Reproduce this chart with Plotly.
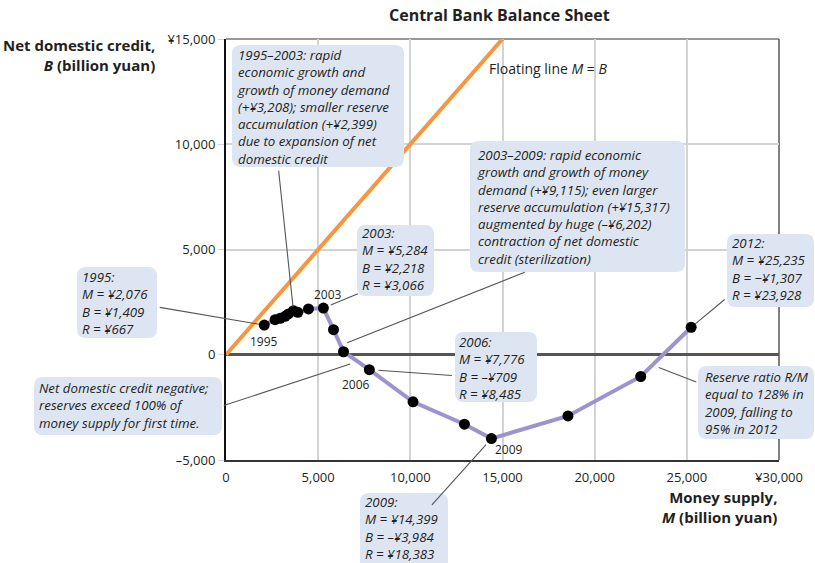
import plotly.graph_objects as go

# ---------------- data ----------------
years = list(range(1995, 2013))
money_supply = [2076, 2663, 2935, 3207, 3386, 3658, 3897, 4473, 5284,
                5832, 6376, 7776, 10145, 12935, 14399, 18550, 22500, 25235]
net_credit = [1409, 1667, 1729, 1824, 1938, 2095, 2014, 2176, 2218,
              1190, 143, -709, -2238, -3300, -3984, -2905, -1033, 1307]
floating_x = [0, 15000]
floating_y = [0, 15000]

x_tickvals = [0, 5000, 10000, 15000, 20000, 25000, 30000]
x_ticktext = ["0", "5,000", "10,000", "15,000", "20,000", "25,000", "¥30,000"]
y_tickvals = [-5000, 0, 5000, 10000, 15000]
y_ticktext = ["–5,000", "0", "5,000", "10,000", "¥15,000"]

# ---------------- layout helpers ----------------
W, H = 815, 563
L, R, T, B = 226, 36, 39, 103
PW, PH = W - L - R, H - T - B
FONT = "Open Sans"
TXT = "#231F20"
BOXC = "#DDE5F2"
BOX_FS = 13.3
LINE_H = BOX_FS * 1.3


def px(x):
    return (x - L) / PW


def py(y):
    return (H - B - y) / PH


def rrect(x0, y0, x1, y1, r=9):
    pts = [("M", x0 + r, y0), ("L", x1 - r, y0), ("Q", x1, y0, x1, y0 + r),
           ("L", x1, y1 - r), ("Q", x1, y1, x1 - r, y1), ("L", x0 + r, y1),
           ("Q", x0, y1, x0, y1 - r), ("L", x0, y0 + r), ("Q", x0, y0, x0 + r, y0)]
    s = ""
    for p in pts:
        cmd = p[0]
        coords = p[1:]
        seg = []
        for i in range(0, len(coords), 2):
            seg.append(f"{px(coords[i]):.5f},{py(coords[i+1]):.5f}")
        s += cmd + " ".join(seg) + " "
    return s + "Z"


fig = go.Figure()

fig.add_trace(go.Scatter(x=floating_x, y=floating_y, mode="lines",
                         line=dict(color="#F7963F", width=4),
                         hoverinfo="skip", showlegend=False, cliponaxis=True))
fig.add_trace(go.Scatter(x=money_supply, y=net_credit, mode="lines+markers",
                         line=dict(color="#9D93CF", width=4),
                         marker=dict(color="black", size=11),
                         text=[str(y) for y in years],
                         showlegend=False, cliponaxis=False))

# boxes (pixel rects) and texts
boxes = [
    ((232, 45, 404, 167), (238, 55),
     ["1995–2003: rapid", "economic growth and", "growth of money demand",
      "(+¥3,208); smaller reserve", "accumulation (+¥2,399)", "due to expansion of net",
      "domestic credit"]),
    ((470, 141, 685, 272), (478, 155),
     ["2003–2009: rapid economic", "growth and growth of money",
      "demand (+¥9,115); even larger", "reserve accumulation (+¥15,317)",
      "augmented by huge (–¥6,202)", "contraction of net domestic",
      "credit (sterilization)"]),
    ((77, 267, 157, 338), (83, 277),
     ["1995:", "M = ¥2,076", "B = ¥1,409", "R = ¥667"]),
    ((357, 225, 434, 296), (363, 233),
     ["2003:", "M = ¥5,284", "B = ¥2,218", "R = ¥3,066"]),
    ((727, 234, 814, 307), (733, 243),
     ["2012:", "M = ¥25,235", "B = −¥1,307", "R = ¥23,928"]),
    ((455, 332, 537, 402), (460, 342),
     ["2006:", "M = ¥7,776", "B = –¥709", "R = ¥8,485"]),
    ((34, 377, 222, 435), (40, 388),
     ["Net domestic credit negative;", "reserves exceed 100% of",
      "money supply for first time."]),
    ((360, 493, 448, 572), (366, 502),
     ["2009:", "M = ¥14,399", "B = –¥3,984", "R = ¥18,383"]),
    ((698, 366, 814, 439), (706, 377),
     ["Reserve ratio R/M", "equal to 128% in", "2009, falling to", "95% in 2012"]),
]

shapes = []
annotations = []
for (x0, y0, x1, y1), (tx, ty), lines in boxes:
    shapes.append(dict(type="path", xref="paper", yref="paper", path=rrect(x0, y0, x1, y1),
                       fillcolor=BOXC, line=dict(width=0), layer="above"))
    n = len(lines)
    annotations.append(dict(xref="paper", yref="paper", x=px(tx - 1),
                            y=py(ty + (n - 1) * LINE_H / 2),
                            xanchor="left", yanchor="middle", align="left",
                            showarrow=False, borderpad=0, borderwidth=0,
                            text="<i>" + "<br>".join(lines) + "</i>",
                            font=dict(family=FONT, size=BOX_FS, color=TXT)))

# plot border top/right
shapes.append(dict(type="line", xref="paper", yref="paper", x0=0, x1=1, y0=1, y1=1,
                   line=dict(color="#777777", width=1.5), layer="below"))
shapes.append(dict(type="line", xref="paper", yref="paper", x0=1, x1=1, y0=0, y1=1,
                   line=dict(color="#555555", width=1.5), layer="below"))

# leader lines: (head x, head y in data, tail offset px, standoff)
i95, i00, i03, i05, i06, i09, i12 = 0, 5, 8, 10, 11, 14, 17
leaders = [
    (money_supply[i00], net_credit[i00], -15, -142, 4),
    (money_supply[i95], net_credit[i95], -106, -18, 5),
    (money_supply[i03], net_credit[i03], 36, -15, 8),
    (6576, 571, 179, -71, 0),
    (6739, -443, -128, 42, 0),
    (money_supply[i06], net_credit[i06], 84, 6, 9),
    (money_supply[i09], net_credit[i09], -61, 68, 8),
    (money_supply[i12], net_credit[i12], 35, -29, 5),
    (23478, -605, 39, 15, 0),
]
for hx, hy, ax, ay, so in leaders:
    annotations.append(dict(x=hx, y=hy, xref="x", yref="y", ax=ax, ay=ay,
                            axref="pixel", ayref="pixel", text=" ", showarrow=True,
                            arrowhead=0, arrowwidth=1.1, arrowcolor="#555555",
                            standoff=so, font=dict(size=1)))

# year labels
for idx, xs, ys in [(i95, 0, -16), (i03, 5, 14), (i06, -13, -15), (i09, 18, -11)]:
    annotations.append(dict(x=money_supply[idx], y=net_credit[idx], xref="x", yref="y",
                            text=str(years[idx]), showarrow=False, xshift=xs, yshift=ys,
                            font=dict(family=FONT, size=12, color=TXT)))

# floating line label
annotations.append(dict(xref="paper", yref="paper", x=px(487), y=py(68), xanchor="left",
                        yanchor="middle", showarrow=False,
                        text="Floating line <i>M</i> = <i>B</i>",
                        font=dict(family=FONT, size=14, color=TXT)))
# title
annotations.append(dict(xref="paper", yref="paper", x=px(499), y=py(15), xanchor="center",
                        yanchor="middle", showarrow=False,
                        text="<b>Central Bank Balance Sheet</b>",
                        font=dict(family=FONT, size=16, color=TXT)))
# axis titles
annotations.append(dict(xref="paper", yref="paper", x=px(157), y=py(54.5), xanchor="right",
                        yanchor="middle", align="right", showarrow=False,
                        text="<b>Net domestic credit,</b><br><b><i>B</i> (billion yuan)</b>",
                        font=dict(family=FONT, size=15, color=TXT)))
annotations.append(dict(xref="paper", yref="paper", x=px(779), y=py(506.5), xanchor="right",
                        yanchor="middle", align="right", showarrow=False,
                        text="<b>Money supply,</b><br><b><i>M</i> (billion yuan)</b>",
                        font=dict(family=FONT, size=15, color=TXT)))

fig.update_layout(
    width=W, height=H, margin=dict(l=L, r=R, t=T, b=B),
    plot_bgcolor="white", paper_bgcolor="white",
    shapes=shapes, annotations=annotations, showlegend=False,
    font=dict(family=FONT, size=13, color=TXT),
    xaxis=dict(range=[0, 30000], tickvals=x_tickvals, ticktext=x_ticktext,
               showgrid=True, gridcolor="#D3D3D3", gridwidth=1.5,
               showline=True, linecolor="#333333", linewidth=2,
               zeroline=False, ticks="", ticklabelstandoff=4,
               tickfont=dict(family=FONT, size=13, color=TXT)),
    yaxis=dict(range=[-5000, 15000], tickvals=y_tickvals, ticktext=y_ticktext,
               showgrid=True, gridcolor="#D3D3D3", gridwidth=1.5,
               showline=True, linecolor="#111111", linewidth=2,
               zeroline=True, zerolinecolor="#555555", zerolinewidth=3,
               ticks="outside", ticklen=6, tickcolor="#D3D3D3",
               tickfont=dict(family=FONT, size=13, color=TXT)),
)

fig.write_html("out.html", config={"displayModeBar": False},
               post_script="document.body.style.margin='0';")
